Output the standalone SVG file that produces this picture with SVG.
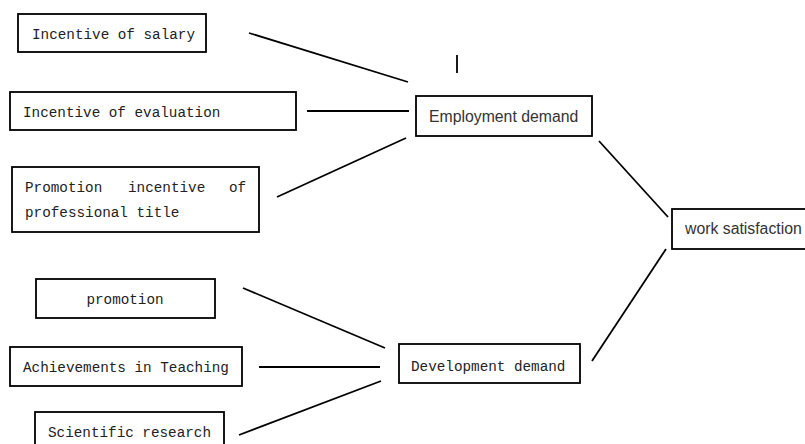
<svg xmlns="http://www.w3.org/2000/svg" width="805" height="444" viewBox="0 0 805 444">
<style>
.box{fill:#fff;stroke:#000;stroke-width:1.8}
.mono{font-family:"Liberation Mono","DejaVu Sans Mono",monospace;font-size:14.3px;fill:#222}
.sans{font-family:"Liberation Sans",Arial,sans-serif;font-size:15.8px;fill:#333}
.conn line{stroke:#000;stroke-width:1.8}
</style>
<rect width="805" height="444" fill="#fff"/>
<g id="salary"><rect class="box" x="18" y="14" width="188" height="38"/><text class="mono" x="32" y="39">Incentive of salary</text></g>
<g id="evaluation"><rect class="box" x="10" y="92" width="286" height="38"/><text class="mono" x="23" y="117">Incentive of evaluation</text></g>
<g id="title"><rect class="box" x="12" y="167" width="247" height="65"/><text class="mono" y="192"><tspan x="25">Promotion</tspan><tspan x="128">incentive</tspan><tspan x="229">of</tspan></text><text class="mono" x="25" y="217">professional title</text></g>
<g id="employment"><rect class="box" x="416" y="96" width="176" height="40"/><text class="sans" x="429" y="122">Employment demand</text></g>
<g id="work"><rect class="box" x="672" y="209" width="145" height="40"/><text class="sans" x="685" y="234">work satisfaction</text></g>
<g id="promotion"><rect class="box" x="36" y="279" width="179" height="39"/><text class="mono" x="125" y="304" text-anchor="middle">promotion</text></g>
<g id="teaching"><rect class="box" x="10" y="347" width="232" height="39"/><text class="mono" x="23" y="372">Achievements in Teaching</text></g>
<g id="research"><rect class="box" x="35" y="412" width="189" height="45"/><text class="mono" x="48" y="437">Scientific research</text></g>
<g id="development"><rect class="box" x="399" y="344" width="181" height="39"/><text class="mono" x="411" y="371">Development demand</text></g>
<g class="conn" id="connectors">
<line x1="249" y1="33" x2="408" y2="82"/>
<line x1="457" y1="55" x2="457" y2="73"/>
<line x1="307" y1="111" x2="409" y2="111"/>
<line x1="277" y1="197" x2="406" y2="138"/>
<line x1="599" y1="141" x2="668" y2="217"/>
<line x1="666" y1="249" x2="592" y2="361"/>
<line x1="243" y1="288" x2="385" y2="348"/>
<line x1="259" y1="367" x2="380" y2="367"/>
<line x1="239" y1="435" x2="381" y2="381"/>
</g>
</svg>
